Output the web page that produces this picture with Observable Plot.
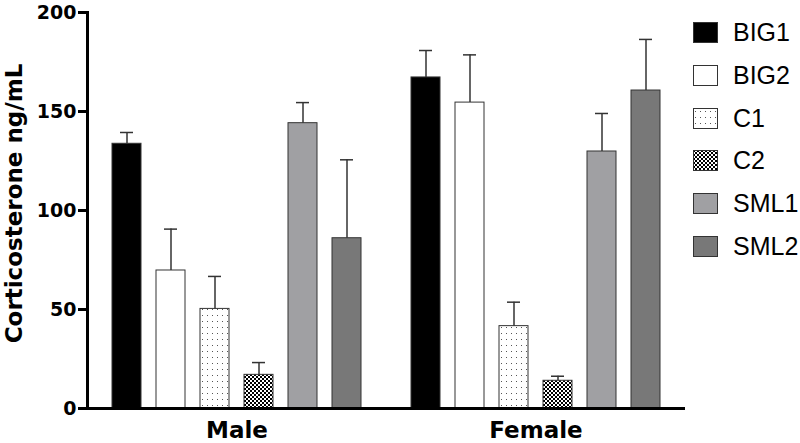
<!DOCTYPE html>
<html><head><meta charset="utf-8">
<script src="https://cdn.jsdelivr.net/npm/d3@7"></script>
<script src="https://cdn.jsdelivr.net/npm/@observablehq/plot@0.6"></script>
<style>
html,body{margin:0;padding:0;background:#fff;}
#wrap{position:relative;width:800px;height:443px;overflow:hidden;}
#legend{position:absolute;left:693px;top:0;font-family:"Liberation Sans",Arial,sans-serif;font-size:25px;color:#000;}
.item{position:absolute;left:0;height:21px;display:flex;align-items:center;white-space:nowrap;}
.item svg{margin-right:15px;flex:none;}
</style></head><body>
<svg width="0" height="0" style="position:absolute">
<defs>
<pattern id="dots" patternUnits="userSpaceOnUse" width="5" height="6"><rect width="5" height="6" fill="#fff"/><rect x="2" y="3" width="1" height="1" fill="#555"/></pattern>
<pattern id="check" patternUnits="userSpaceOnUse" width="4" height="4"><rect width="4" height="4" fill="#fff"/><rect width="2" height="2" fill="#000"/><rect x="2" y="2" width="2" height="2" fill="#000"/></pattern>
</defs></svg>
<div id="wrap"><div id="chart"></div><div id="legend"></div></div>
<script>
const groups = ["Male", "Female"];
const series = ["BIG1", "BIG2", "C1", "C2", "SML1", "SML2"];
const maleMean = [133.7, 69.7, 50.3, 17.0, 144.1, 86.0];
const maleSem = [5.7, 20.9, 16.4, 6.2, 10.4, 39.6];
const femaleMean = [167.2, 154.5, 41.6, 14.0, 129.8, 160.6];
const femaleSem = [13.6, 24.1, 12.1, 2.3, 19.2, 25.8];
const yTicks = [0, 50, 100, 150, 200];
const yLabel = "Corticosterone ng/mL";
const fills = ["#000000", "#ffffff", "url(#dots)", "url(#check)", "#a0a0a3", "#787878"];

const rows = groups.flatMap((g, gi) => series.map((s, i) => ({
  sex: g, series: s,
  mean: gi === 0 ? maleMean[i] : femaleMean[i],
  sem: gi === 0 ? maleSem[i] : femaleSem[i]
})));

const chart = Plot.plot({
  width: 800, height: 443,
  marginTop: 12, marginBottom: 35, marginLeft: 87, marginRight: 115,
  style: {fontFamily: '"DejaVu Sans", sans-serif', color: "#000", background: "#fff"},
  fx: {domain: groups, padding: 0},
  x: {domain: series, paddingInner: 0.333, paddingOuter: 0.49, axis: null},
  y: {domain: [0, 200], axis: null},
  color: {domain: series, range: fills},
  marks: [
    Plot.barY(rows, {fx: "sex", x: "series", y: "mean", fill: "series", stroke: "#333", strokeWidth: 1}),
    Plot.ruleX(rows, {fx: "sex", x: "series", y1: "mean", y2: d => d.mean + d.sem, stroke: "#333", strokeWidth: 1.5}),
    Plot.tickY(rows, {fx: "sex", x: "series", y: d => d.mean + d.sem, stroke: "#333", strokeWidth: 1.5, insetLeft: 8, insetRight: 8}),
    Plot.ruleY([0], {strokeWidth: 3, stroke: "#000"}),
    Plot.frame({anchor: "left", facetAnchor: "left", strokeWidth: 3, stroke: "#000"}),
    Plot.axisY({ticks: yTicks, tickSize: 9, tickPadding: 2, strokeWidth: 3, fontSize: 19, fontWeight: "bold", label: null}),
    Plot.text([yLabel], {frameAnchor: "left", facetAnchor: "left", textAnchor: "middle", rotate: -90, dx: -73, dy: -7, fontSize: 23, fontWeight: "bold", fill: "#000"}),
    Plot.axisFx({anchor: "bottom", tickSize: 0, tickPadding: 13, fontSize: 23, fontWeight: "bold", label: null})
  ]
});
document.getElementById("chart").appendChild(chart);

const legend = document.getElementById("legend");
series.forEach((s, i) => {
  const item = document.createElement("div");
  item.className = "item";
  item.style.top = (22 + i * 42.8) + "px";
  item.innerHTML = `<svg width="25" height="21"><rect x="0.5" y="0.5" width="24" height="20" fill="${fills[i]}" stroke="#333" stroke-width="1"/></svg><span>${s}</span>`;
  legend.appendChild(item);
});
</script>
</body></html>
